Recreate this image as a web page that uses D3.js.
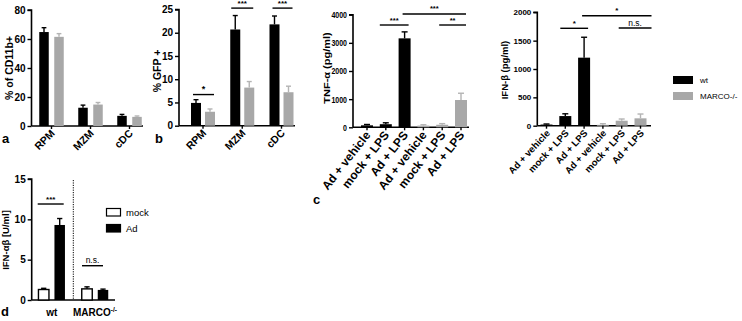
<!DOCTYPE html>
<html><head><meta charset="utf-8">
<script src="https://cdn.jsdelivr.net/npm/d3@7"></script>
<style>body{margin:0;background:#fff}svg{font-family:"Liberation Sans",Arial,sans-serif;font-weight:bold}</style>
</head><body><svg id="c" width="742" height="321"></svg>
<script>
// ---------- data ----------
const cellTypes = ["RPM", "MZM", "cDC"];
const aWt = [64.8, 12.6, 7.0], aWtErr = [3.0, 1.8, 1.0];
const aKo = [61.5, 14.8, 6.3], aKoErr = [2.2, 1.4, 0.6];
const bWt = [4.9, 20.7, 21.8], bWtErr = [0.7, 3.0, 1.8];
const bKo = [3.0, 8.2, 7.2], bKoErr = [0.6, 1.3, 1.3];
const treatments = ["Ad + vehicle", "mock + LPS", "Ad + LPS"];
const tnfWt = [70, 110, 3160], tnfWtErr = [30, 50, 230];
const tnfKo = [60, 90, 970], tnfKoErr = [30, 40, 240];
const ifnbWt = [20, 170, 1200], ifnbWtErr = [10, 40, 360];
const ifnbKo = [15, 88, 130], ifnbKoErr = [20, 30, 76];
const dGroups = ["wt", "MARCO"];
const dMock = [1.3, 1.38], dMockErr = [0.15, 0.25];
const dAd = [9.3, 1.25], dAdErr = [0.8, 0.1];
const ticksA = [0, 20, 40, 60, 80], ticksB = [0, 5, 10, 15, 20, 25];
const ticksC = [0, 1000, 2000, 3000, 4000], ticksIfn = [0, 500, 1000, 1500, 2000];
const ticksD = [0, 5, 10, 15];

const BLACK = "#000", GREY = "#a8a8a8", GREYERR = "#b4b4b4";
const svg = d3.select("#c");

function yAxis(y, x0, ticks, fs, sx){
  sx = sx || 1;
  const g = svg.append("g").attr("transform", `translate(${x0},0)`)
    .call(d3.axisLeft(y).tickValues(ticks).tickFormat(d3.format("d")).tickSize(4).tickPadding(2));
  g.select(".domain").attr("stroke-width", 1.6).attr("d", `M-4,${y(ticks[ticks.length-1])}H0V${y(0)}`);
  g.selectAll(".tick line").attr("stroke-width", 1.4);
  g.selectAll(".tick text").attr("font-size", fs).attr("font-weight", "bold").attr("font-family", "Liberation Sans, Arial")
    .attr("x", null).attr("transform", `translate(-6,0) scale(${sx},1)`);
  return g;
}
function xBase(x0, x1, yy){
  svg.append("line").attr("x1", x0).attr("x2", x1).attr("y1", yy).attr("y2", yy).attr("stroke", "#000").attr("stroke-width", 1.6);
}
function bar(cx, w, val, err, y, fill, errCol, stroke){
  const top = y(val);
  svg.append("rect").attr("x", cx - w/2).attr("y", top).attr("width", w).attr("height", y(0) - top)
    .attr("fill", fill).attr("stroke", stroke || "none").attr("stroke-width", stroke ? 1.4 : 0);
  const et = y(val + err);
  svg.append("line").attr("x1", cx).attr("x2", cx).attr("y1", top).attr("y2", et).attr("stroke", errCol).attr("stroke-width", 1.4);
  svg.append("line").attr("x1", cx - w/4).attr("x2", cx + w/4).attr("y1", et).attr("y2", et).attr("stroke", errCol).attr("stroke-width", 1.4);
}
function sig(x1, x2, yy, label, fs){
  svg.append("line").attr("x1", x1).attr("x2", x2).attr("y1", yy).attr("y2", yy).attr("stroke", "#000").attr("stroke-width", 1.4);
  svg.append("text").attr("x", (x1 + x2)/2).attr("y", yy - 2.5).attr("text-anchor", "middle").attr("font-size", fs).attr("font-weight", label === "n.s." ? "normal" : "bold").text(label);
}
function yLabel(x, cy, txt, fs, sx){
  svg.append("text").attr("transform", `translate(${x},${cy}) scale(${sx || 1},1) rotate(-90)`).attr("text-anchor", "middle").attr("font-size", fs).text(txt);
}
function rotLabels(x, cats, y0, fs, dx, ang){
  cats.forEach(c => {
    svg.append("text").attr("transform", `translate(${x(c) + dx},${y0}) rotate(${-(ang || 45)})`).attr("text-anchor", "end").attr("font-size", fs).text(c.label || c);
    svg.append("line").attr("x1", x(c)).attr("x2", x(c)).attr("y1", y0 - 8).attr("y2", y0 - 5).attr("stroke", "#000").attr("stroke-width", 1.4);
  });
}
function letter(x, y, t){ svg.append("text").attr("x", x).attr("y", y).attr("font-size", 13).text(t); }

// ---------- panel a ----------
{
  const y = d3.scaleLinear().domain([0, 80]).range([126, 10]);
  const x = d3.scalePoint().domain(cellTypes).range([51.5, 129.5]);
  yAxis(y, 31.5, ticksA, 10);
  xBase(31.5, 143, y(0));
  cellTypes.forEach((c, i) => {
    bar(x(c) - 7.5, 9.5, aWt[i], aWtErr[i], y, BLACK, BLACK);
    bar(x(c) + 7.5, 9.5, aKo[i], aKoErr[i], y, GREY, GREYERR);
  });
  rotLabels(x, cellTypes, y(0) + 8, 10.5, 4);
  yLabel(13, 68, "% of CD11b+", 10.5);
  letter(2, 143, "a");
}
// ---------- panel b ----------
{
  const y = d3.scaleLinear().domain([0, 25]).range([125.7, 9.5]);
  const x = d3.scalePoint().domain(cellTypes).range([203, 281.5]);
  yAxis(y, 179, ticksB, 10);
  xBase(179, 295, y(0));
  cellTypes.forEach((c, i) => {
    bar(x(c) - 7, 10, bWt[i], bWtErr[i], y, BLACK, BLACK);
    bar(x(c) + 7, 10, bKo[i], bKoErr[i], y, GREY, GREYERR);
  });
  rotLabels(x, cellTypes, y(0) + 8, 10.5, 4);
  yLabel(161, 71, "% GFP +", 10.5);
  letter(155, 143, "b");
  sig(x("RPM") - 10, x("RPM") + 11, y(6.7), "*", 9);
  sig(x("MZM") - 11, x("MZM") + 11, y(25.3), "***", 8);
  sig(x("cDC") - 9, x("cDC") + 11, y(25.3), "***", 8);
}
// ---------- panel c (TNF) ----------
const sixCats = [...treatments.map(t => ({key: "wt " + t, label: t})), ...treatments.map(t => ({key: "ko " + t, label: t}))];
function sixPanel(vWt, eWt, vKo, eKo, yr, xr, ax, axEnd, ticks, fs, lfs, sx, ang){
  const y = d3.scaleLinear().domain([0, ticks[ticks.length-1]]).range(yr);
  const xp = d3.scalePoint().domain(sixCats.map(c => c.key)).range(xr);
  const x = c => xp(c.key || c);
  yAxis(y, ax, ticks, fs, sx);
  xBase(ax, axEnd, y(0));
  treatments.forEach((t, i) => {
    bar(x("wt " + t), 12, vWt[i], eWt[i], y, BLACK, BLACK);
    bar(x("ko " + t), 12, vKo[i], eKo[i], y, GREY, GREYERR);
  });
  rotLabels(x, sixCats, y(0) + 8, lfs, 4, ang);
  return {x, y};
}
{
  const {x, y} = sixPanel(tnfWt, tnfWtErr, tnfKo, tnfKoErr, [127.3, 14.7], [367, 461], 353, 469, ticksC, 9, 12, 0.78, 52);
  yLabel(330, 68, "TNF-α (pg/ml)", 11, 0.78);
  letter(313, 204, "c");
  sig(x("wt mock + LPS") - 6, x("wt Ad + LPS") + 4, y(3634), "***", 7.5);
  sig(x("wt Ad + LPS") - 2, x("ko Ad + LPS") + 5, y(4025), "***", 7.5);
  sig(x("ko mock + LPS") - 3, x("ko Ad + LPS") + 5, y(3634), "**", 7.5);
}
// ---------- panel IFN-beta ----------
{
  const {x, y} = sixPanel(ifnbWt, ifnbWtErr, ifnbKo, ifnbKoErr, [125.7, 12.3], [546.5, 640.5], 537.3, 651, ticksIfn, 8, 9.5, 1, 47);
  yLabel(508, 70, "IFN-β (pg/ml)", 9.5);
  sig(x("wt mock + LPS") - 5, x("wt Ad + LPS") + 4, y(1718), "*", 8);
  sig(x("wt Ad + LPS") - 2, x("ko Ad + LPS") + 11, y(1940), "*", 8);
  sig(x("ko mock + LPS") - 3, x("ko Ad + LPS") + 11, y(1723), "n.s.", 8.5);
}
// legend top
[["wt", BLACK], ["MARCO-/-", GREY]].forEach(([t, c], i) => {
  svg.append("rect").attr("x", 673).attr("y", 76 + i*16).attr("width", 20).attr("height", 8).attr("fill", c);
  svg.append("text").attr("x", 700).attr("y", 83 + i*16).attr("font-size", 8).attr("font-weight", "normal").text(t);
});
// ---------- panel d ----------
{
  const y = d3.scaleLinear().domain([0, 15]).range([300, 179]);
  const x = d3.scalePoint().domain(dGroups).range([51.7, 95]);
  yAxis(y, 31.7, ticksD, 10);
  xBase(31.7, 115, y(0));
  dGroups.forEach((g, i) => {
    bar(x(g) - 8, 10.5, dMock[i], dMockErr[i], y, "#fff", BLACK, BLACK);
    bar(x(g) + 8, 10.5, dAd[i], dAdErr[i], y, BLACK, BLACK);
  });
  svg.append("line").attr("x1", 73.3).attr("x2", 73.3).attr("y1", 180).attr("y2", 300).attr("stroke", "#000").attr("stroke-width", 1).attr("stroke-dasharray", "1.2,1.2");
  svg.append("text").attr("x", x("wt")).attr("y", 316).attr("text-anchor", "middle").attr("font-size", 10).text("wt");
  const mt = svg.append("text").attr("x", x("MARCO")).attr("y", 316).attr("text-anchor", "middle").attr("font-size", 10);
  mt.append("tspan").text("MARCO");
  mt.append("tspan").attr("font-size", 6.5).attr("dy", -4).text("-/-");
  yLabel(9, 240, "IFN-αβ [U/ml]", 9.5);
  letter(1, 316, "d");
  sig(x("wt") - 14, x("wt") + 12, y(11.9), "***", 8);
  sig(x("MARCO") - 13, x("MARCO") + 8, y(4.25), "n.s.", 8.5);
  [["mock", "#fff"], ["Ad", BLACK]].forEach(([t, c], i) => {
    svg.append("rect").attr("x", 106.5).attr("y", 208.5 + i*16).attr("width", 14).attr("height", 7.5).attr("fill", c).attr("stroke", "#000").attr("stroke-width", 1.2);
    svg.append("text").attr("x", 126).attr("y", 216 + i*16).attr("font-size", 9.5).attr("font-weight", "normal").text(t);
  });
}
</script></body></html>
